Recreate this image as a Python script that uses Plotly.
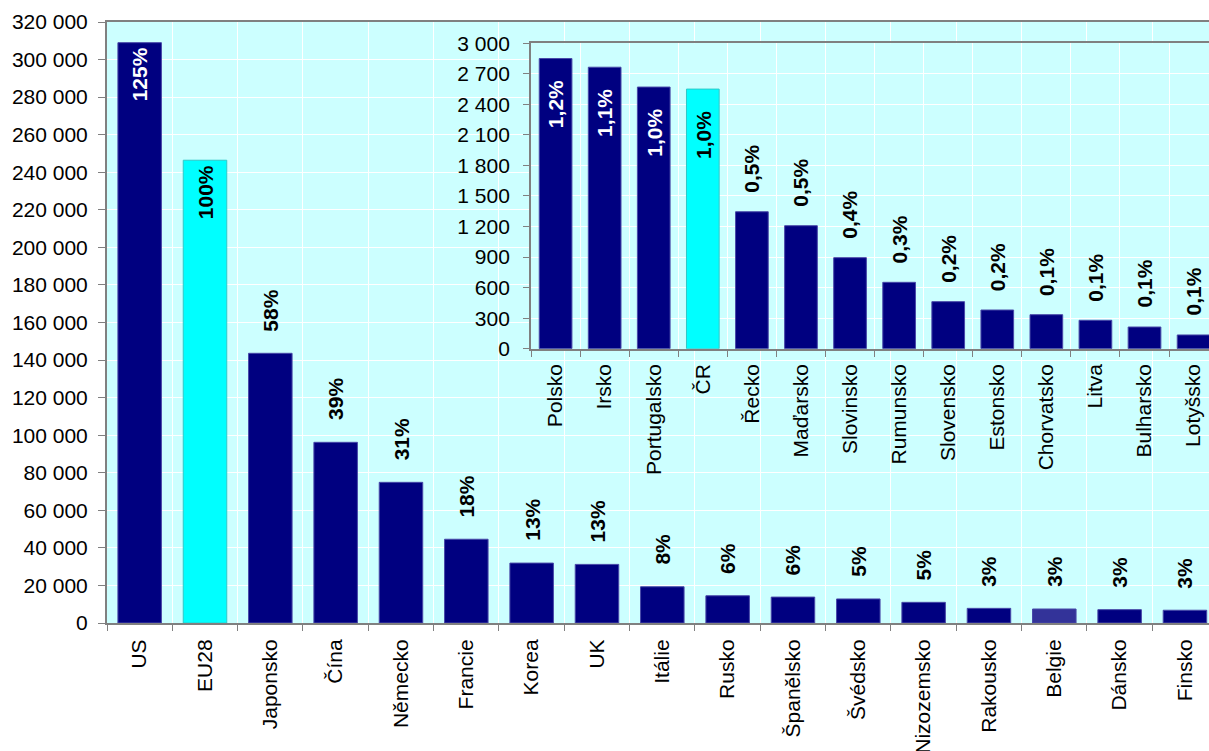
import plotly.graph_objects as go

# Main chart: world economies
countries = ["US", "EU28", "Japonsko", "Čína", "Německo", "Francie", "Korea", "UK",
             "Itálie", "Rusko", "Španělsko", "Švédsko", "Nizozemsko", "Rakousko",
             "Belgie", "Dánsko", "Finsko"]
values = [309000, 246400, 143600, 96200, 74900, 44600, 31900, 31200,
          19300, 14500, 13800, 12800, 11000, 7800, 7450, 7100, 6800]
shares = ["125%", "100%", "58%", "39%", "31%", "18%", "13%", "13%",
          "8%", "6%", "6%", "5%", "5%", "3%", "3%", "3%", "3%"]

# Inset chart: smaller EU member states
small_countries = ["Polsko", "Irsko", "Portugalsko", "ČR", "Řecko", "Maďarsko",
                   "Slovinsko", "Rumunsko", "Slovensko", "Estonsko", "Chorvatsko",
                   "Litva", "Bulharsko", "Lotyšsko"]
small_values = [2850, 2765, 2570, 2550, 1345, 1208, 894, 652, 462, 380, 334, 279, 213, 135]
small_shares = ["1,2%", "1,1%", "1,0%", "1,0%", "0,5%", "0,5%", "0,4%", "0,3%",
                "0,2%", "0,2%", "0,1%", "0,1%", "0,1%", "0,1%"]

NAVY = "#000080"
CYAN = "#00FFFF"
BELGIUM = "#333399"
BG = "#CCFFFF"
AXIS = "#808080"
FONT = "Arial, 'Liberation Sans', sans-serif"

highlight_main = {"EU28": CYAN, "Belgie": BELGIUM}
highlight_small = {"ČR": CYAN}
inside_main = {"US", "EU28"}
inside_small = {"Polsko", "Irsko", "Portugalsko", "ČR"}


def colors_for(names, special):
    return [special.get(n, NAVY) for n in names]


def edge_for(cols):
    return ["#30C8C8" if c == CYAN else "#4848A8" for c in cols]


main_cols = colors_for(countries, highlight_main)
small_cols = colors_for(small_countries, highlight_small)

fig = go.Figure()
fig.add_trace(go.Bar(x=countries, y=values, xaxis="x", yaxis="y",
                     marker=dict(color=main_cols, line=dict(color=edge_for(main_cols), width=1)),
                     hoverinfo="x+y"))
fig.add_trace(go.Bar(x=small_countries, y=small_values, xaxis="x2", yaxis="y2",
                     marker=dict(color=small_cols, line=dict(color=edge_for(small_cols), width=1)),
                     hoverinfo="x+y"))

annotations = []


def add_labels(names, vals, labels, cols, inside, xref, yref, out_gap, in_gap):
    for n, v, t, c in zip(names, vals, labels, cols):
        is_in = n in inside
        txt_col = "white" if (is_in and c != CYAN) else "black"
        annotations.append(dict(
            x=n, y=v, xref=xref, yref=yref, text=t, showarrow=False,
            textangle=-90,
            yanchor="top" if is_in else "bottom",
            yshift=-in_gap if is_in else out_gap,
            font=dict(family=FONT, size=21, color=txt_col, weight="bold"),
        ))


add_labels(countries, values, shares, main_cols, inside_main, "x", "y", 20, 3)
add_labels(small_countries, small_values, small_shares, small_cols, inside_small, "x2", "y2", 17, 20)

common_x = dict(type="category", tickson="boundaries", ticks="outside", ticklen=6,
                tickcolor=AXIS, tickwidth=1, showgrid=True, gridcolor="white", gridwidth=1,
                showline=True, linecolor=AXIS, linewidth=2, mirror=True, tickangle=-90,
                automargin=False,
                tickfont=dict(family=FONT, size=21, color="black"), fixedrange=True)
common_y = dict(ticks="outside", tickcolor=AXIS, tickwidth=1, showgrid=True,
                gridcolor="white", gridwidth=1, showline=True, linecolor=AXIS, linewidth=2,
                tickformat=",", zeroline=False, automargin=False,
                tickfont=dict(family=FONT, size=21, color="black"), fixedrange=True)

fig.update_layout(
    width=1209, height=751,
    margin=dict(l=107, r=0, t=22, b=128, autoexpand=False),
    paper_bgcolor="white", plot_bgcolor=BG,
    separators=", ",
    bargap=0.334,
    showlegend=False,
    font=dict(family=FONT, size=21, color="black"),
    xaxis=dict(common_x, domain=[0, 1], range=[-0.5, 16.368], ticklabelstandoff=6,
               categoryorder="array", categoryarray=countries),
    yaxis=dict(common_y, range=[0, 320000], dtick=20000, ticklen=7, ticklabelstandoff=6),
    xaxis2=dict(common_x, domain=[0.3848, 1], anchor="y2", range=[-0.5, 13.314],
                ticklabelstandoff=5,
                categoryorder="array", categoryarray=small_countries),
    yaxis2=dict(common_y, domain=[0.4564, 0.9646], anchor="x2", range=[0, 3000],
                dtick=300, ticklen=6, ticklabelstandoff=9),
    annotations=annotations,
)

fig.write_html("out.html")
